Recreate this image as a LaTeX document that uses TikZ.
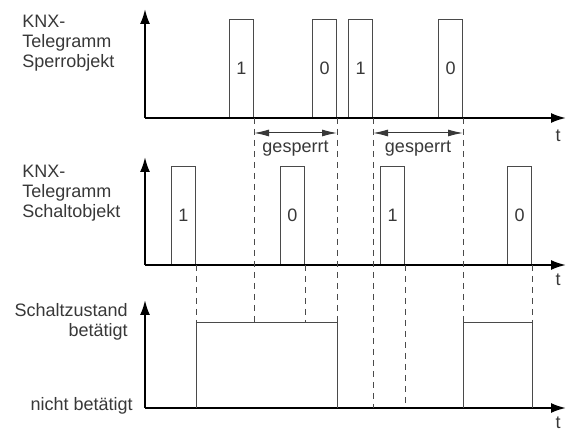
\documentclass[tikz,border=0pt]{standalone}
\usepackage{fontspec}
\setmainfont{Liberation Sans}
\usetikzlibrary{arrows.meta,positioning}
\definecolor{tdInk}{HTML}{383838}
\definecolor{tdLine}{HTML}{4A4A4A}
\tikzset{
    tdAxis/.style={-{Latex[length=7.5pt,width=5pt]}, line width=1pt, draw=black},
    tdPulse/.style={
        rectangle,
        draw=tdLine,
        line width=0.5pt,
        anchor=south west,
        minimum width=12pt,
        minimum height=49pt,
        inner sep=0pt,
        font=\fontsize{9}{10}\selectfont,
        text=tdInk
    },
    tdGuide/.style={draw=tdLine, line width=0.5pt, dash pattern=on 3.2pt off 2.3pt},
    tdLevel/.style={draw=tdLine, line width=0.5pt},
    tdSpan/.style={{Latex[length=7.5pt,width=3.5pt]}-{Latex[length=7.5pt,width=3.5pt]}, line width=0.5pt, draw=tdInk},
    tdLabel/.style={font=\fontsize{9}{10}\selectfont, text=tdInk, inner sep=0pt}
}
\begin{document}
\begin{tikzpicture}[x=0.5pt, y=-0.5pt]
\useasboundingbox (0,0) rectangle (567,431);
% reference rows
\coordinate (hi) at (0,323);
\coordinate (lo) at (0,408);
\coordinate (g1) at (0,133);

% Sperrobjekt
\coordinate (o1) at (145,118);
\coordinate (y1) at (145,9);
\coordinate (x1) at (566,118);
\node[tdLabel, anchor=north west, align=left] (lab1) at (22,15) {KNX-\\Telegramm\\Sperrobjekt};
\node[tdPulse] (s1) at (229,118) {1};
\node[tdPulse] (s2) at (312,118) {0};
\node[tdPulse] (s3) at (348,118) {1};
\node[tdPulse] (s4) at (438,118) {0};
\draw[tdAxis] (o1) -- (y1);
\draw[tdAxis] (o1) -- (x1);
\node[tdLabel] (t1) at (558,136) {t};

% Schaltobjekt
\coordinate (o2) at (145,265);
\coordinate (y2) at (145,157);
\coordinate (x2) at (566,265);
\node[tdLabel, anchor=north west, align=left] (lab2) at (22,165) {KNX-\\Telegramm\\Schaltobjekt};
\node[tdPulse] (c1) at (171,265) {1};
\node[tdPulse] (c2) at (280,265) {0};
\node[tdPulse] (c3) at (380,265) {1};
\node[tdPulse] (c4) at (507,265) {0};
\draw[tdAxis] (o2) -- (y2);
\draw[tdAxis] (o2) -- (x2);
\node[tdLabel] (t2) at (558,280) {t};

% Schaltzustand
\coordinate (o3) at (145,408);
\coordinate (y3) at (145,300);
\coordinate (x3) at (566,408);
\node[tdLabel, anchor=north east, align=right] (lab3) at (128,303) {Schaltzustand\\betätigt};
\node[tdLabel, anchor=base east] (lab4) at (133,411) {nicht betätigt};
\draw[tdAxis] (o3) -- (y3);
\draw[tdAxis] (o3) -- (x3);
\node[tdLabel] (t3) at (558,423) {t};

% guides
\draw[tdGuide] (s1.south east) -- (s1.south east |- hi);
\draw[tdGuide] (s2.south east) -- (s2.south east |- hi);
\draw[tdGuide] (s3.south east) -- (s3.south east |- lo);
\draw[tdGuide] (s4.south east) -- (s4.south east |- hi);
\draw[tdGuide] (c1.south east) -- (c1.south east |- hi);
\draw[tdGuide] (c2.south east) -- (c2.south east |- hi);
\draw[tdGuide] (c3.south east) -- (c3.south east |- lo);
\draw[tdGuide] (c4.south east) -- (c4.south east |- hi);

% blocked spans
\draw[tdSpan] (s1.south east |- g1) -- (s2.south east |- g1) node[tdLabel, midway, below=3.5pt] {gesperrt};
\draw[tdSpan] (s3.south east |- g1) -- (s4.south east |- g1) node[tdLabel, midway, below=3.5pt] {gesperrt};

% switching state
\draw[tdLevel] (c1.south east |- lo) -- (c1.south east |- hi) -- (s2.south east |- hi) -- (s2.south east |- lo);
\draw[tdLevel] (s4.south east |- lo) -- (s4.south east |- hi) -- (c4.south east |- hi) -- (c4.south east |- lo);
\end{tikzpicture}
\end{document}
